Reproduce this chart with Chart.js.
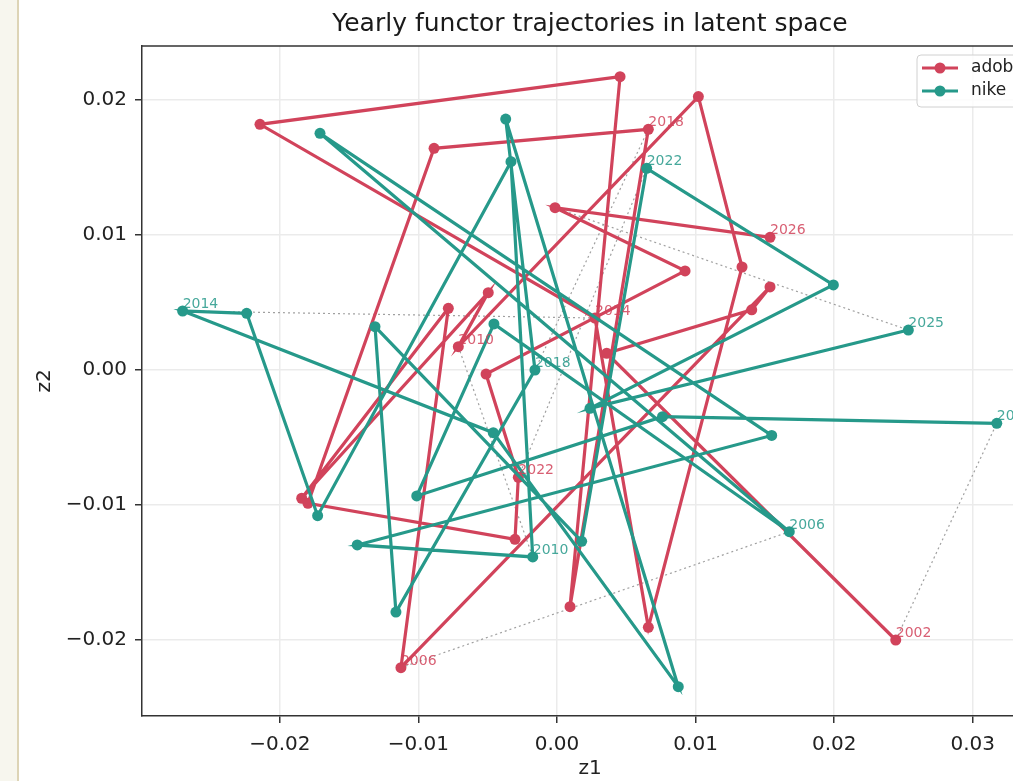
<!DOCTYPE html>
<html>
<head>
<meta charset="utf-8">
<script src="https://cdn.jsdelivr.net/npm/chart.js@4.4.1/dist/chart.umd.min.js"></script>
<style>
html, body { margin: 0; padding: 0; background: #ffffff; overflow: hidden; }
#side { position: absolute; left: 0; top: 0; width: 17px; height: 781px; background: #f7f6ee; border-right: 2px solid #ddd4b6; }
#wrap { position: absolute; left: 0; top: 0; width: 1045px; height: 781px; }
</style>
</head>
<body>
<div id="side"></div>
<div id="wrap"><canvas id="chart" width="1045" height="781"></canvas></div>
<script>
// Trajectories (z1, z2 per year)
const adobeYears = [2002, 2003, 2004, 2005, 2006, 2007, 2008, 2009, 2010, 2011, 2012, 2013, 2014,
                    2015, 2016, 2017, 2018, 2019, 2020, 2021, 2022, 2023, 2024, 2025, 2026];
const adobeZ1 = [0.02444, 0.00359, 0.01405, 0.01537, -0.01126, -0.00784, -0.01842, -0.00496, -0.00712,
                 0.01020, 0.01335, 0.00659, 0.00274, -0.02143, 0.00455, 0.00094, 0.00659, -0.00887,
                 -0.01797, -0.00303, -0.00279, -0.00512, 0.00924, -0.00014, 0.01537];
const adobeZ2 = [-0.02000, 0.00124, 0.00446, 0.00615, -0.02205, 0.00457, -0.00950, 0.00573, 0.00173,
                 0.02025, 0.00763, -0.01906, 0.00385, 0.01820, 0.02173, -0.01753, 0.01783, 0.01642,
                 -0.00987, -0.01254, -0.00795, -0.00030, 0.00734, 0.01202, 0.00983];

const nikeYears = [2002, 2003, 2004, 2005, 2006, 2007, 2008, 2009, 2010, 2011, 2012, 2013, 2014,
                   2015, 2016, 2017, 2018, 2019, 2020, 2021, 2022, 2023, 2024, 2025];
const nikeZ1 = [0.03173, 0.00761, -0.01012, -0.00455, 0.01676, -0.01710, 0.01549, -0.01441, -0.00175,
                -0.00332, -0.01727, -0.02239, -0.02701, -0.00460, 0.00875, -0.00370, -0.00159, -0.01162,
                -0.01313, 0.00178, 0.00647, 0.01994, 0.00238, 0.02535];
const nikeZ2 = [-0.00395, -0.00346, -0.00933, 0.00341, -0.01198, 0.01753, -0.00485, -0.01296, -0.01385,
                0.01543, -0.01079, 0.00420, 0.00437, -0.00464, -0.02346, 0.01859, 0.00000, -0.01793,
                0.00321, -0.01269, 0.01494, 0.00630, -0.00284, 0.00296];

const adobeLabelYears = [2002, 2006, 2010, 2014, 2018, 2022, 2026];
const nikeLabelYears = [2002, 2006, 2010, 2014, 2018, 2022, 2025];

const xTicks = [-0.02, -0.01, 0.00, 0.01, 0.02, 0.03];
const yTicks = [-0.02, -0.01, 0.00, 0.01, 0.02];

const RED = '#d1435b';
const TEAL = '#26998a';
const FONT = 'DejaVu Sans';

function points(xs, ys) {
    return xs.map((x, i) => ({ x: x, y: ys[i] }));
}

// dotted links between the two series for labelled years
const linkYears = [...new Set(adobeLabelYears.concat(nikeLabelYears))]
    .filter(y => adobeYears.includes(y) && nikeYears.includes(y));
const linkSets = linkYears.map(yr => {
    const a = adobeYears.indexOf(yr), n = nikeYears.indexOf(yr);
    return {
        label: 'link ' + yr,
        data: [{ x: adobeZ1[a], y: adobeZ2[a] }, { x: nikeZ1[n], y: nikeZ2[n] }],
        showLine: true,
        borderColor: 'rgba(150,150,150,0.9)',
        borderWidth: 1.2,
        borderDash: [2, 3],
        pointRadius: 0,
        order: 3
    };
});

function fmt(v) {
    return v.toFixed(2).replace('-', '\u2212');
}

const framePlugin = {
    id: 'frame',
    afterDraw(chart) {
        const { ctx, chartArea: a } = chart;
        ctx.save();
        ctx.strokeStyle = '#333';
        ctx.lineWidth = 1.5;
        ctx.beginPath();
        ctx.moveTo(a.left, a.top);
        ctx.lineTo(a.right, a.top);
        ctx.lineTo(a.right, a.bottom);
        ctx.stroke();

        // title centred over the axes
        ctx.fillStyle = '#1a1a1a';
        ctx.font = '25px "' + FONT + '"';
        ctx.textAlign = 'center';
        ctx.textBaseline = 'alphabetic';
        ctx.fillText('Yearly functor trajectories in latent space', (a.left + a.right) / 2, 31);
        ctx.restore();
    }
};

const yearLabelPlugin = {
    id: 'yearLabels',
    afterDatasetsDraw(chart) {
        const { ctx, scales: { x, y } } = chart;
        ctx.save();
        ctx.font = '14px "' + FONT + '"';
        ctx.textAlign = 'left';
        ctx.textBaseline = 'alphabetic';
        const series = [
            [adobeYears, adobeZ1, adobeZ2, adobeLabelYears, 'rgba(209,67,91,0.85)'],
            [nikeYears, nikeZ1, nikeZ2, nikeLabelYears, 'rgba(38,153,138,0.85)']
        ];
        series.forEach(([years, zx, zy, labs, col]) => {
            ctx.fillStyle = col;
            labs.forEach(yr => {
                const i = years.indexOf(yr);
                ctx.fillText(String(yr), x.getPixelForValue(zx[i]), y.getPixelForValue(zy[i]) - 3);
            });
        });
        ctx.restore();
    }
};

const legendPlugin = {
    id: 'cornerLegend',
    afterDraw(chart) {
        const { ctx } = chart;
        const bx = 917, by = 55, bw = 122, bh = 52;
        ctx.save();
        ctx.fillStyle = 'rgba(255,255,255,0.85)';
        ctx.strokeStyle = '#d0d0d0';
        ctx.lineWidth = 1;
        ctx.beginPath();
        ctx.roundRect(bx, by, bw, bh, 4);
        ctx.fill();
        ctx.stroke();
        const items = [['adobe', RED, 68], ['nike', TEAL, 91]];
        ctx.font = '17px "' + FONT + '"';
        ctx.textBaseline = 'middle';
        items.forEach(([name, col, yy]) => {
            ctx.strokeStyle = col;
            ctx.lineWidth = 3.2;
            ctx.beginPath();
            ctx.moveTo(922, yy);
            ctx.lineTo(958, yy);
            ctx.stroke();
            ctx.fillStyle = col;
            ctx.beginPath();
            ctx.arc(940, yy, 5.5, 0, Math.PI * 2);
            ctx.fill();
            ctx.fillStyle = '#222';
            ctx.fillText(name, 971, yy);
        });
        ctx.restore();
    }
};

Chart.defaults.font.family = FONT;
Chart.defaults.color = '#222';

new Chart(document.getElementById('chart'), {
    type: 'scatter',
    data: {
        datasets: [
            {
                label: 'nike',
                data: points(nikeZ1, nikeZ2),
                showLine: true,
                borderColor: TEAL,
                backgroundColor: TEAL,
                borderWidth: 3.2,
                pointRadius: 5.5,
                pointHoverRadius: 5.5,
                pointBorderWidth: 0,
                order: 0
            },
            {
                label: 'adobe',
                data: points(adobeZ1, adobeZ2),
                showLine: true,
                borderColor: RED,
                backgroundColor: RED,
                borderWidth: 3.2,
                pointRadius: 5.5,
                pointHoverRadius: 5.5,
                pointBorderWidth: 0,
                order: 1
            }
        ].concat(linkSets)
    },
    options: {
        responsive: false,
        devicePixelRatio: 1,
        animation: false,
        layout: { padding: { left: 0, top: 46, right: 7, bottom: 0 } },
        plugins: {
            legend: { display: false },
            tooltip: { enabled: false },
            title: { display: false }
        },
        scales: {
            x: {
                type: 'linear',
                min: -0.029942,
                max: 0.034704,
                afterBuildTicks: s => { s.ticks = xTicks.map(v => ({ value: v })); },
                afterFit: s => { s.height = 65; },
                ticks: { callback: v => fmt(v), font: { size: 20 }, padding: 10, maxRotation: 0 },
                grid: { color: '#ebebeb', lineWidth: 1.5, tickColor: '#333', tickLength: 7, tickWidth: 1.5 },
                border: { display: true, color: '#333', width: 1.5 },
                title: { display: true, text: 'z1', font: { size: 20 }, padding: { top: 0, bottom: 0 } }
            },
            y: {
                type: 'linear',
                min: -0.02563,
                max: 0.024,
                afterBuildTicks: s => { s.ticks = yTicks.map(v => ({ value: v })); },
                afterFit: s => { s.width = 142; },
                ticks: { callback: v => fmt(v), font: { size: 20 }, padding: 8 },
                grid: { color: '#ebebeb', lineWidth: 1.5, tickColor: '#333', tickLength: 7, tickWidth: 1.5 },
                border: { display: true, color: '#333', width: 1.5 },
                title: { display: true, text: 'z2', font: { size: 20 }, padding: { top: 33, bottom: 0 } }
            }
        }
    },
    plugins: [framePlugin, yearLabelPlugin, legendPlugin]
});
</script>
</body>
</html>
